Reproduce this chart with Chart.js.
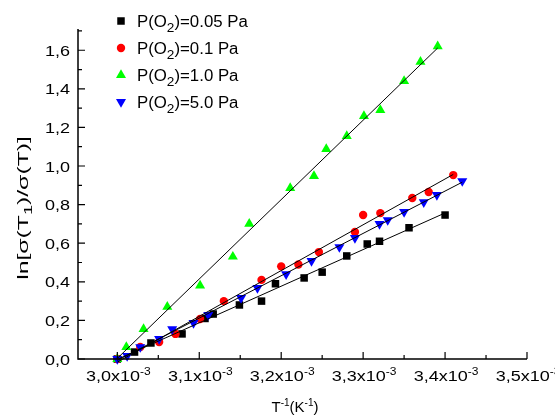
<!DOCTYPE html>
<html>
<head>
<meta charset="utf-8">
<script src="https://cdn.jsdelivr.net/npm/chart.js@4.4.0/dist/chart.umd.min.js"></script>
<style>
  html, body { margin: 0; padding: 0; background: #fff; }
</style>
</head>
<body>
<canvas id="chart" width="555" height="417"></canvas>
<script>
// x values in units of 1e-3 K^-1
const legendNames = ['0.05', '0.1', '1.0', '5.0'];

const x005 = [3.000, 3.021, 3.041, 3.079, 3.107, 3.117, 3.149, 3.176, 3.193, 3.228, 3.250, 3.280, 3.305, 3.320, 3.356, 3.400];
const y005 = [0.000, 0.036, 0.083, 0.130, 0.210, 0.233, 0.280, 0.300, 0.390, 0.420, 0.450, 0.534, 0.596, 0.610, 0.680, 0.746];

const x01 = [3.000, 3.028, 3.051, 3.071, 3.101, 3.130, 3.176, 3.200, 3.221, 3.246, 3.290, 3.300, 3.321, 3.360, 3.380, 3.410];
const y01 = [0.000, 0.062, 0.088, 0.130, 0.207, 0.300, 0.410, 0.480, 0.490, 0.554, 0.658, 0.746, 0.756, 0.834, 0.865, 0.953];

const x10 = [3.000, 3.011, 3.032, 3.061, 3.101, 3.141, 3.161, 3.211, 3.240, 3.255, 3.280, 3.301, 3.321, 3.350, 3.370, 3.391];
const y10 = [0.000, 0.062, 0.155, 0.270, 0.380, 0.530, 0.700, 0.886, 0.948, 1.088, 1.155, 1.259, 1.290, 1.440, 1.540, 1.620];

const x50 = [3.000, 3.012, 3.028, 3.051, 3.067, 3.093, 3.111, 3.151, 3.171, 3.206, 3.237, 3.271, 3.290, 3.320, 3.330, 3.350, 3.374, 3.390, 3.421];
const y50 = [0.000, 0.016, 0.062, 0.104, 0.155, 0.187, 0.228, 0.316, 0.368, 0.440, 0.508, 0.580, 0.627, 0.700, 0.720, 0.762, 0.813, 0.850, 0.922];

const xTicks = [3.0, 3.1, 3.2, 3.3, 3.4, 3.5];
const yTicks = [0.0, 0.2, 0.4, 0.6, 0.8, 1.0, 1.2, 1.4, 1.6];

const FONT = '"Liberation Sans", Arial, sans-serif';

function pts(xs, ys) {
  return xs.map((x, i) => ({ x: x, y: ys[i] }));
}

// least squares line over the range of the data
function fitLine(xs, ys) {
  const n = xs.length;
  let sx = 0, sy = 0, sxx = 0, sxy = 0;
  for (let i = 0; i < n; i++) {
    sx += xs[i]; sy += ys[i]; sxx += xs[i] * xs[i]; sxy += xs[i] * ys[i];
  }
  const b = (n * sxy - sx * sy) / (n * sxx - sx * sx);
  const a = (sy - b * sx) / n;
  const x0 = Math.min(...xs), x1 = Math.max(...xs);
  return [{ x: x0, y: a + b * x0 }, { x: x1, y: a + b * x1 }];
}

const styles = [
  { color: '#000000', pointStyle: 'rect', radius: 5.3, rotation: 0 },
  { color: '#ff0000', pointStyle: 'circle', radius: 4.2, rotation: 0 },
  { color: '#00ff00', pointStyle: 'triangle', radius: 5.8, rotation: 0 },
  { color: '#0000ff', pointStyle: 'triangle', radius: 5.8, rotation: 180 }
];
const seriesX = [x005, x01, x10, x50];
const seriesY = [y005, y01, y10, y50];

const datasets = [];
seriesX.forEach((xs, i) => {
  datasets.push({
    type: 'scatter',
    label: legendNames[i],
    data: pts(xs, seriesY[i]),
    pointStyle: styles[i].pointStyle,
    pointRotation: styles[i].rotation,
    pointRadius: styles[i].radius,
    pointBackgroundColor: styles[i].color,
    pointBorderColor: styles[i].color,
    pointBorderWidth: 0,
    showLine: false,
    clip: false,
    order: 4 - i
  });
});
seriesX.forEach((xs, i) => {
  datasets.push({
    type: 'line',
    label: 'fit' + i,
    data: fitLine(xs, seriesY[i]),
    borderColor: '#000',
    borderWidth: 1,
    pointRadius: 0,
    fill: false,
    clip: false,
    order: 0
  });
});

// draws text made of pieces [text, size, dy], with horizontal stretch
function richText(ctx, parts, x, y, align, sx) {
  ctx.save();
  let w = 0;
  parts.forEach(p => { ctx.font = p[1] + 'px ' + FONT; w += ctx.measureText(p[0]).width; });
  w *= sx;
  const start = align === 'center' ? x - w / 2 : (align === 'right' ? x - w : x);
  ctx.translate(start, y);
  ctx.scale(sx, 1);
  ctx.fillStyle = '#000';
  ctx.textAlign = 'left';
  ctx.textBaseline = 'alphabetic';
  let cx = 0;
  parts.forEach(p => {
    ctx.font = p[1] + 'px ' + FONT;
    ctx.fillText(p[0], cx, p[2]);
    cx += ctx.measureText(p[0]).width;
  });
  ctx.restore();
}

const axesPlugin = {
  id: 'originAxes',
  afterDraw(chart) {
    const ctx = chart.ctx;
    const xs = chart.scales.x, ys = chart.scales.y;
    const area = chart.chartArea;
    ctx.save();
    ctx.strokeStyle = '#000';
    ctx.lineWidth = 1.5;
    ctx.beginPath();
    ctx.moveTo(area.left, area.top);
    ctx.lineTo(area.left, area.bottom);
    ctx.lineTo(area.right, area.bottom);
    ctx.stroke();

    // inward ticks
    ctx.lineWidth = 1.2;
    ctx.beginPath();
    xTicks.forEach((v, i) => {
      const px = xs.getPixelForValue(v);
      ctx.moveTo(px, area.bottom); ctx.lineTo(px, area.bottom - 7);
      if (i < xTicks.length - 1) {
        const pm = xs.getPixelForValue(v + 0.05);
        ctx.moveTo(pm, area.bottom); ctx.lineTo(pm, area.bottom - 4);
      }
    });
    yTicks.forEach(v => {
      const py = ys.getPixelForValue(v);
      ctx.moveTo(area.left, py); ctx.lineTo(area.left + 7, py);
      const pm = ys.getPixelForValue(v + 0.1);
      if (pm >= area.top) { ctx.moveTo(area.left, pm); ctx.lineTo(area.left + 4, pm); }
    });
    ctx.stroke();
    ctx.restore();

    // tick labels
    xTicks.forEach(v => {
      const px = xs.getPixelForValue(v);
      richText(ctx, [[v.toFixed(1).replace('.', ',') + 'x10', 15, 0], ['-3', 10, -6]], px + 1, 381, 'center', 1.2);
    });
    yTicks.forEach(v => {
      const py = ys.getPixelForValue(v);
      richText(ctx, [[v.toFixed(1).replace('.', ','), 15, 0]], 70, py + 5.5, 'right', 1.2);
    });

    // axis titles
    richText(ctx, [['T', 15, 0], ['-1', 10, -6], ['(K', 15, 0], ['-1', 10, -6], [')', 15, 0]], 295, 412, 'center', 1.0);
    ctx.save();
    ctx.translate(28, 208);
    ctx.rotate(-Math.PI / 2);
    richText(ctx, [['ln[σ(T', 15, 0], ['1', 11, 4], [')/σ(T)]', 15, 0]], 0, 0, 'center', 1.65);
    ctx.restore();

    // legend
    legendNames.forEach((name, i) => {
      const ly = 21 + i * 27;
      ctx.save();
      ctx.fillStyle = styles[i].color;
      ctx.strokeStyle = styles[i].color;
      ctx.lineWidth = 0;
      Chart.helpers.drawPoint(ctx, {
        pointStyle: styles[i].pointStyle,
        rotation: styles[i].rotation,
        radius: styles[i].radius,
        borderWidth: 0
      }, 121, ly);
      ctx.restore();
      richText(ctx, [['P(O', 16, 0], ['2', 13, 5], [')=' + name + ' Pa', 16, 0]], 137, ly + 6, 'left', 1.05);
    });
  }
};

new Chart(document.getElementById('chart'), {
  type: 'scatter',
  data: { datasets: datasets },
  options: {
    responsive: false,
    devicePixelRatio: 1,
    animation: false,
    layout: { padding: { left: 78, right: 28, top: 29, bottom: 58 } },
    plugins: {
      legend: { display: false },
      tooltip: { enabled: false }
    },
    scales: {
      x: { type: 'linear', display: false, min: 2.952, max: 3.5 },
      y: { type: 'linear', display: false, min: 0, max: 1.71 }
    }
  },
  plugins: [axesPlugin]
});
</script>
</body>
</html>
